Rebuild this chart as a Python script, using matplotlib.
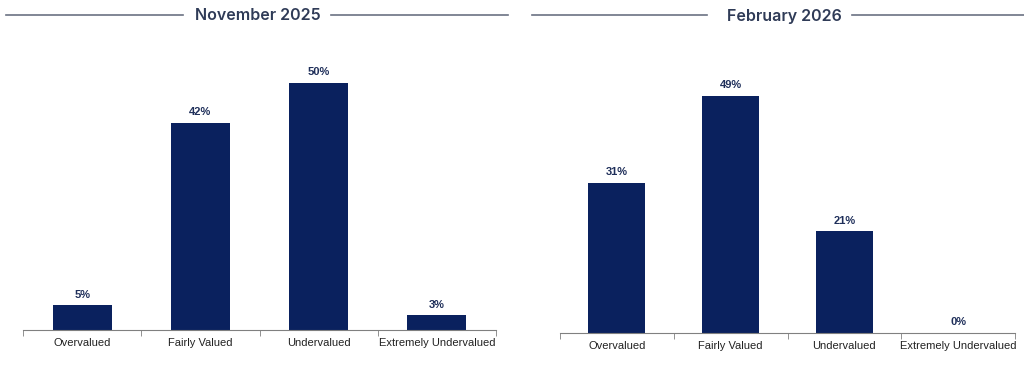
import matplotlib.pyplot as plt
from matplotlib.lines import Line2D
import numpy as np

categories = ['Overvalued', 'Fairly Valued', 'Undervalued', 'Extremely Undervalued']
nov_2025 = [5, 42, 50, 3]
feb_2026 = [31, 49, 21, 0]
titles = ['November 2025', 'February 2026']

bar_color = '#0a215e'
title_color = '#2f3b57'
rule_color = '#6b7283'

fig = plt.figure(figsize=(10.24, 3.65), dpi=100)
W, H = 1024.0, 365.0

def panel(left, right, base, top, ymax, values, title, tleft, tright, tcenter):
    ax = fig.add_axes([left / W, 1 - base / H, (right - left) / W, (base - top) / H])
    x = np.arange(len(values)) + 0.5
    ax.bar(x, values, width=0.5, color=bar_color)
    for xi, v in zip(x, values):
        ax.annotate(f'{v}%', (xi, v), xytext=(0, 4), textcoords='offset points',
                    ha='center', va='bottom', fontsize=8, fontweight='bold',
                    color='#1f2f5a', family='Liberation Sans')
    ax.set_xlim(0, len(values))
    ax.set_ylim(0, ymax)
    ax.set_xticks(x)
    ax.set_xticklabels(categories, fontsize=8, family='Liberation Sans', color='#222222')
    ax.set_xticks(np.arange(len(values) + 1), minor=True)
    ax.tick_params(axis='x', which='major', length=0, pad=6)
    ax.tick_params(axis='x', which='minor', length=4, color='#808080', direction='out')
    ax.set_yticks([])
    for s in ['top', 'right', 'left']:
        ax.spines[s].set_visible(False)
    ax.spines['bottom'].set_color('#808080')
    # title with rules either side
    fig.text(tcenter / W, 1 - 16 / H, title, ha='center', va='center',
             fontsize=11.5, fontweight='semibold', color=title_color, family='Inter')
    y = 1 - 15 / H
    fig.add_artist(Line2D([tleft[0] / W, tleft[1] / W], [y, y], color=rule_color, lw=1.2))
    fig.add_artist(Line2D([tright[0] / W, tright[1] / W], [y, y], color=rule_color, lw=1.2))
    return ax

panel(23, 496, 330, 40, 290 / 4.94, nov_2025, titles[0], (6, 183), (331, 508), 258)
panel(560, 1015, 333, 40, 293 / 4.84, feb_2026, titles[1], (532, 707), (852, 1024), 784)

fig.savefig('out.png', dpi=100, facecolor='white')
